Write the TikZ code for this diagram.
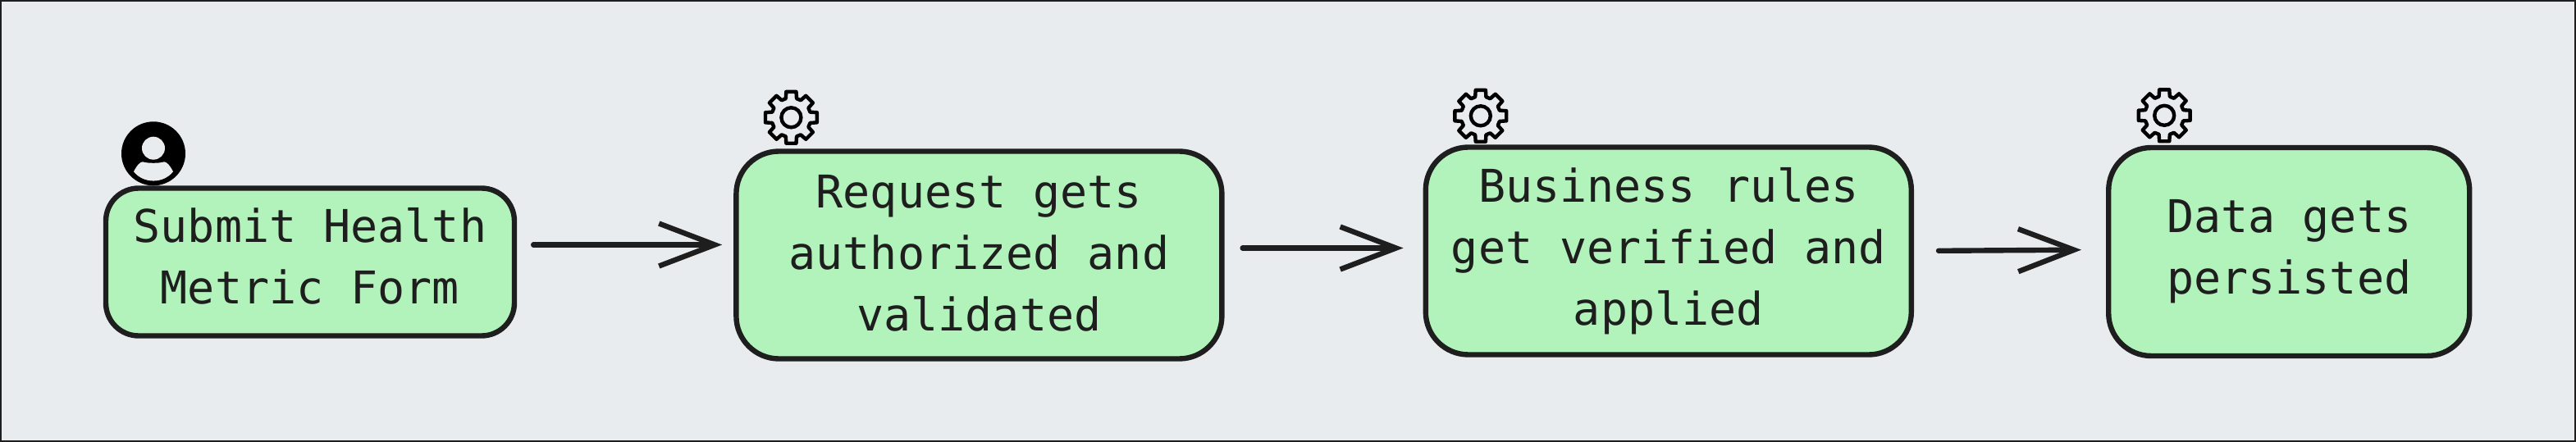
\documentclass[tikz,border=0pt]{standalone}
\usepackage{fontspec}
\setmainfont{DejaVu Sans Mono}
\usetikzlibrary{positioning}
\usetikzlibrary{arrows.meta}

\tikzset{
	gear/.pic={
		\draw[icon black,line width=2.2pt,line join=round]
		(-16:12pt) \foreach \a in {0,45,...,315} {
			-- (\a-16:12pt) -- (\a-11:16pt) -- (\a+11:16pt) -- (\a+16:12pt)
		} -- cycle;
		\draw[icon black,line width=2.2pt] (0,0) circle (6pt);
	},
	user/.pic={
		\fill[icon black] (0,0) circle (19.5pt);
		\fill[back] (0,3.3pt) circle (7pt);
		\fill[back] (-12pt,-11pt) .. controls (-10pt,-7pt) and (-8pt,-5pt) .. (-6.5pt,-5pt)
		.. controls (-4pt,-6pt) and (4pt,-6pt) .. (6.5pt,-5pt)
		.. controls (8pt,-5pt) and (10pt,-7pt) .. (12pt,-11pt)
		.. controls (6pt,-18.5pt) and (-6pt,-18.5pt) .. (-12pt,-11pt) -- cycle;
	}
}

\begin{document}
\begin{tikzpicture}[line cap=round,
	main node/.style={rectangle,draw=stroke,fill=mint,text=stroke,line width=3.2pt,align=center,
		font=\fontsize{27.5}{37.5}\selectfont},
	small node/.style={main node,minimum width=249pt,minimum height=90pt,rounded corners=20pt},
	wide node/.style={main node,minimum width=296pt,minimum height=126.5pt,rounded corners=26pt},
	short node/.style={main node,minimum width=220pt,minimum height=127pt,rounded corners=26pt},
	flow/.style={-{Straight Barb[length=34pt,width=26pt,line width=3.2pt]},draw=stroke,line width=3.2pt}]
	
	\definecolor{back}{HTML}{E9ECEF}
	\definecolor{mint}{HTML}{B2F2BB}
	\definecolor{stroke}{HTML}{1E1E1E}
	\definecolor{icon black}{RGB}{0,0,0}
	
	\useasboundingbox (0,0) rectangle (1570pt,-269.5pt);
	\draw[fill=back,draw=stroke,line width=2pt] (0,0) rectangle (1570pt,-269.5pt);
	
	\node[small node] (submit) at (189pt,-159.75pt) {Submit Health\\Metric Form\rule[-8pt]{0pt}{0pt}};
	\node[wide node] (request) [right=132pt of submit,yshift=4.25pt] {Request gets\\authorized and\\validated\rule[-3pt]{0pt}{0pt}};
	\node[wide node] (rules) [right=121pt of request,yshift=2.5pt] {Business rules\\get verified and\\applied};
	\node[short node] (data) [right=117pt of rules,yshift=-0.5pt] {Data gets\\persisted};
	
	\path (submit.north) ++(-95.5pt,19.5pt) pic {user};
	\path (request.north) ++(-114.5pt,19pt) pic {gear};
	\path (rules.north) ++(-114.5pt,17.5pt) pic {gear};
	\path (data.north) ++(-76pt,18pt) pic {gear};
	
	\draw[flow,shorten <=10pt,shorten >=7pt] ([yshift=10.5pt]submit.east) -- ([yshift=6.25pt]request.west);
	\draw[flow,shorten <=11pt,shorten >=12pt] ([yshift=4.25pt]request.east) -- ([yshift=1.75pt]rules.west);
	\draw[flow,shorten <=15pt,shorten >=15pt] (rules.east) -- ([yshift=1.25pt]data.west);
\end{tikzpicture}
\end{document}
